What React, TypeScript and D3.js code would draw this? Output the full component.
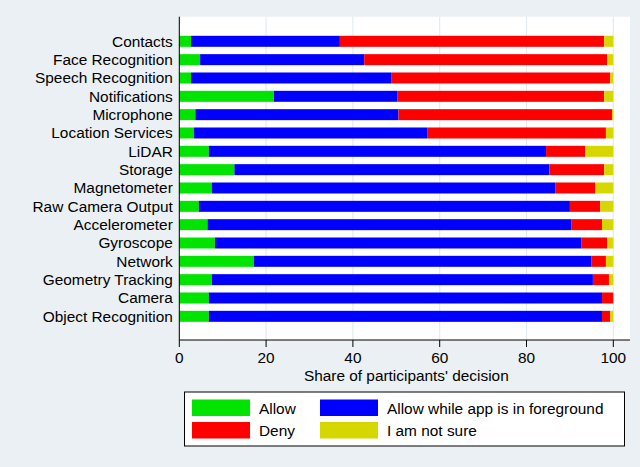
import { scaleBand, scaleLinear, stack } from "d3";

const categories = [
  "Contacts",
  "Face Recognition",
  "Speech Recognition",
  "Notifications",
  "Microphone",
  "Location Services",
  "LiDAR",
  "Storage",
  "Magnetometer",
  "Raw Camera Output",
  "Accelerometer",
  "Gyroscope",
  "Network",
  "Geometry Tracking",
  "Camera",
  "Object Recognition",
];

const allow = [2.7, 4.8, 2.7, 21.8, 3.7, 3.4, 6.8, 12.7, 7.5, 4.5, 6.5, 8.2, 17.2, 7.5, 6.8, 6.8];
const foreground = [34.3, 37.8, 46.1, 28.4, 46.8, 53.7, 77.7, 72.6, 79.1, 85.5, 83.9, 84.5, 77.7, 87.8, 90.6, 90.6];
const deny = [60.9, 56.0, 50.5, 47.7, 49.2, 41.2, 9.0, 12.6, 9.3, 7.0, 7.0, 5.9, 3.4, 3.7, 2.6, 1.9];
const unsure = [2.1, 1.4, 0.7, 2.1, 0.3, 1.7, 6.5, 2.1, 4.1, 3.0, 2.6, 1.4, 1.7, 1.0, 0, 0.7];

const xTicks = [0, 20, 40, 60, 80, 100];

const seriesKeys = ["allow", "foreground", "deny", "unsure"];
const seriesLabels = ["Allow", "Allow while app is in foreground", "Deny", "I am not sure"];
const colors: Record<string, string> = {
  allow: "#00e400",
  foreground: "#0000ff",
  deny: "#ff0000",
  unsure: "#d6d600",
};

const W = 640;
const H = 467;
const plot = { left: 179.3, right: 630, top: 16.7, bottom: 340 };
const font = "'Liberation Sans', Arial, Helvetica, sans-serif";
const fs = 15.4;

export default function App() {
  const rows = categories.map((c, i) => ({
    name: c,
    allow: allow[i],
    foreground: foreground[i],
    deny: deny[i],
    unsure: unsure[i],
  }));
  const layers = stack<any>().keys(seriesKeys)(rows);

  const x = scaleLinear().domain([0, 100]).range([179.3, 613.3]);
  const y = scaleBand<string>()
    .domain(categories)
    .range([32.15, 325.5])
    .paddingInner(0.4)
    .paddingOuter(0.2);

  return (
    <svg
      width={W}
      height={H}
      style={{ position: "absolute", left: 0, top: 0, fontFamily: font }}
    >
      <rect x={0} y={0} width={W} height={H} fill="#eaf0f3" />
      <rect
        x={plot.left}
        y={plot.top}
        width={plot.right - plot.left}
        height={plot.bottom - plot.top}
        fill="#ffffff"
      />
      {xTicks.map((t) => (
        <line
          key={"g" + t}
          x1={x(t)}
          x2={x(t)}
          y1={plot.top}
          y2={plot.bottom}
          stroke="#e4ebef"
          strokeWidth={1.2}
        />
      ))}
      {layers.map((layer) => (
        <g key={layer.key} fill={colors[layer.key]}>
          {layer.map((d: any) => (
            <rect
              key={d.data.name}
              x={x(d[0])}
              y={y(d.data.name)}
              width={Math.max(0, x(d[1]) - x(d[0]))}
              height={y.bandwidth()}
            />
          ))}
        </g>
      ))}
      <line x1={plot.left} x2={plot.left} y1={plot.top} y2={plot.bottom} stroke="#000" strokeWidth={1} />
      <line x1={plot.left} x2={plot.right} y1={plot.bottom} y2={plot.bottom} stroke="#000" strokeWidth={1} />
      {categories.map((c) => (
        <text
          key={"l" + c}
          x={plot.left - 6.5}
          y={(y(c) as number) + y.bandwidth() / 2}
          textAnchor="end"
          dominantBaseline="central"
          fontSize={fs}
          fill="#000"
        >
          {c}
        </text>
      ))}
      {xTicks.map((t) => (
        <g key={"t" + t}>
          <line x1={x(t)} x2={x(t)} y1={plot.bottom} y2={plot.bottom + 7} stroke="#000" />
          <text x={x(t)} y={plot.bottom + 23} textAnchor="middle" fontSize={fs} fill="#000">
            {t}
          </text>
        </g>
      ))}
      <text
        x={(x(0) + x(100)) / 2 + 10}
        y={381}
        textAnchor="middle"
        fontSize={fs}
        fill="#000"
      >
        Share of participants' decision
      </text>
      <rect x={184.5} y={392} width={440} height={54} fill="#ffffff" stroke="#000" strokeWidth={1} />
      {seriesKeys.map((k, i) => {
        const col = k === "allow" || k === "deny" ? 0 : 1;
        const row = k === "allow" || k === "foreground" ? 0 : 1;
        const sx = col === 0 ? 192 : 320;
        const sy = row === 0 ? 399.5 : 422;
        return (
          <g key={"lg" + k}>
            <rect x={sx} y={sy} width={58} height={16.5} fill={colors[k]} />
            <text x={sx + 67} y={sy + 8.5} dominantBaseline="central" fontSize={fs} fill="#000">
              {seriesLabels[i]}
            </text>
          </g>
        );
      })}
    </svg>
  );
}
